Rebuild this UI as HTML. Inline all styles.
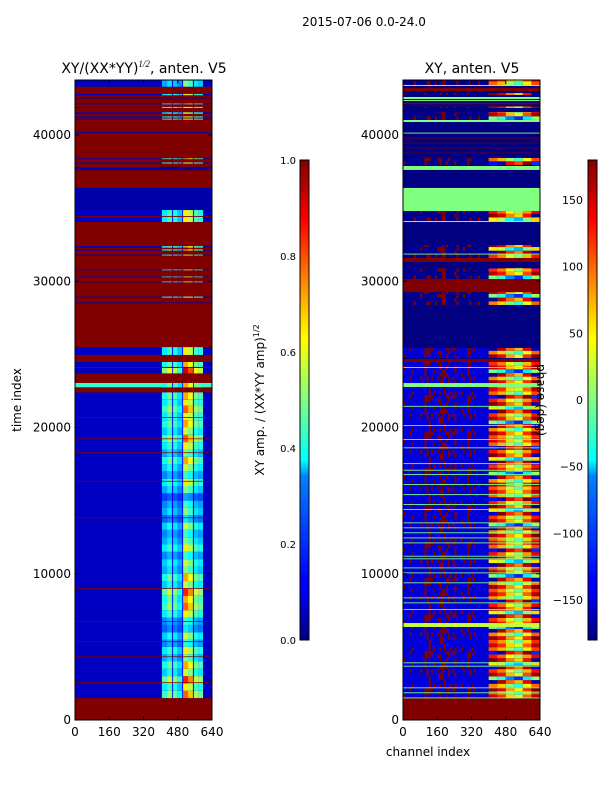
<!DOCTYPE html>
<html><head><meta charset="utf-8">
<style>
html,body{margin:0;padding:0;background:#fff;}
svg text{font-family:"DejaVu Sans","Liberation Sans",sans-serif;fill:#000;}
</style></head>
<body>
<svg id="fig" width="600" height="800" viewBox="0 0 600 800" xmlns="http://www.w3.org/2000/svg">
<defs>
<linearGradient id="jet" x1="0" y1="1" x2="0" y2="0">
<stop offset="0" stop-color="#000080"/><stop offset="0.11" stop-color="#0000ff"/>
<stop offset="0.125" stop-color="#0000ff"/><stop offset="0.34" stop-color="#0080ff"/><stop offset="0.375" stop-color="#00ffff"/>
<stop offset="0.5" stop-color="#80ff80"/><stop offset="0.625" stop-color="#ffff00"/><stop offset="0.66" stop-color="#ffe000"/>
<stop offset="0.875" stop-color="#ff0000"/><stop offset="1" stop-color="#800000"/>
</linearGradient>
<clipPath id="clipL"><rect x="75" y="80" width="137" height="640"/></clipPath>
<clipPath id="clipR"><rect x="403" y="80" width="137" height="640"/></clipPath>
</defs>
<text x="364" y="26" font-size="12" text-anchor="middle">2015-07-06 0.0-24.0</text>
<text x="144" y="73" font-size="14" text-anchor="middle">XY/(XX*YY)<tspan font-size="9" dy="-6" font-family="Liberation Serif,serif" font-style="italic">1/2</tspan><tspan dy="6">, anten. V5</tspan></text>
<text x="472" y="73" font-size="14" text-anchor="middle">XY, anten. V5</text>
<g id="heatL" clip-path="url(#clipL)"></g>
<g id="heatR" clip-path="url(#clipR)"></g>
<rect x="75" y="80" width="137" height="640" fill="none" stroke="#000" stroke-width="1"/>
<rect x="403" y="80" width="137" height="640" fill="none" stroke="#000" stroke-width="1"/>
<g id="axes"></g>
<text transform="translate(21,400) rotate(-90)" font-size="12" text-anchor="middle">time index</text>
<text x="428" y="756" font-size="12" text-anchor="middle">channel index</text>
<rect x="300" y="160" width="9" height="480" fill="url(#jet)" stroke="#000" stroke-width="1"/>
<rect x="588" y="160" width="9" height="480" fill="url(#jet)" stroke="#000" stroke-width="1"/>
<text transform="translate(264,400) rotate(-90)" font-size="12" text-anchor="middle">XY amp. / (XX*YY amp)<tspan font-size="8" dy="-5">1/2</tspan></text>
<text transform="translate(537,400) rotate(90)" font-size="12" text-anchor="middle">phase (deg)</text>
</svg>
<script>
// ---------- data ----------
const xTicks = [0,160,320,480,640];
const yTicks = [0,10000,20000,30000,40000];
const cbLeftTicks = [0.0,0.2,0.4,0.6,0.8,1.0];
const cbRightTicks = [-150,-100,-50,0,50,100,150];
// left panel bands: [t0(k), t1(k), type, intensity]
const leftBands = [
 [0,1.5,'R',0],[1.5,21.9,'H',0],[21.9,22.4,'H',0.9],[22.75,23.05,'C',0.9],[23.05,23.7,'R',0],
 [23.7,24.07,'H',1.2],[24.07,24.14,'R',0],[24.14,24.48,'H',0.9],[24.48,24.96,'R',0],[24.96,25.5,'H',0.8],
 [25.5,28.5,'R',0],[28.5,28.55,'B',0],[28.88,28.95,'H',0.8],[29.93,29.98,'H',0.8],[30.27,30.32,'H',0.8],[30.75,30.8,'H',0.8],
 [31.76,31.82,'H',0.8],[32.1,32.18,'H',0.9],[32.3,32.4,'H',0.9],
 [34.05,34.87,'H',0.8],[34.4,34.46,'R',0],[34.87,36.38,'B',0],[37.6,37.82,'B',0],
 [38.05,38.12,'H',0.8],[38.35,38.4,'H',0.9],[40.15,40.2,'B',0],
 [41.05,41.12,'H',0.8],[41.2,41.27,'H',0.8],[41.45,41.55,'H',0.7],[41.85,41.92,'H',0.8],[42.1,42.15,'H',0.9],
 [42.5,42.56,'B',0],[42.72,42.8,'H',0.8],[43.3,43.76,'H',0.6]
];
const leftRedLines = [2.53,4.3,5.33,6.7,8.96,13.8,16.3,18.25,19.2,20.65];
const hotBins = [[406,430],[430,453],[453,458],[458,480],[480,500],[500,505],[505,528],[528,551],[551,556],[556,578],[578,598]];
const hotProfile = [0.35,0.45,0.1,0.4,0.3,0.1,0.7,0.6,0.1,0.45,0.4];
// intensity of hot stripes for main block rows (each 0.5k, from 1.5k upward)
const hotIntensity = [1.0,0.8,1.1,0.7,0.9,0.6,0.8,0.5,0.7,0.4,0.5,0.8,1.0,0.9,1.1,0.7,0.9,0.6,0.7,0.5,
 0.8,0.6,0.5,0.7,0.4,0.6,0.5,0.3,0.6,0.8,0.5,0.7,0.9,0.6,0.8,1.0,0.7,0.9,0.8,1.0,0.8];
// right panel bands: [t0, t1, type]  N navy, R dark red, G green, M mixed, Y yellow-green
const rightBands = [
 [1.48,24.48,'M'],[24.48,24.68,'R'],[24.75,25.44,'M'],[28.38,29.26,'M'],[29.26,30.15,'R'],[30.15,30.91,'M'],
 [31.32,31.59,'R'],[31.59,32.48,'M'],[34.05,34.12,'G'],[34.12,34.8,'M'],[34.8,36.38,'G'],[37.61,37.88,'G'],
 [37.95,38.43,'M'],[38.75,38.79,'R'],[39.09,39.13,'R'],[39.43,39.47,'R'],[39.77,39.81,'R'],[40.1,40.16,'G'],
 [40.89,41.03,'G'],[41.03,41.57,'M'],[41.85,41.95,'M'],[42.1,42.2,'R'],[42.32,42.39,'G'],[42.46,42.6,'G'],
 [42.74,42.87,'M'],[43.01,43.21,'R'],[43.35,43.42,'G'],[43.42,43.76,'M'],[0,1.48,'R'],[6.36,6.63,'Y'],[22.77,23.04,'G']
];
const rightGreenLines = [1.48,1.83,2.17,3.65,3.88,7.52,7.98,8.32,9.35,10.03,10.37,10.99,11.17,12.08,12.42,12.77,13.11,13.45,
 14.36,14.7,15.38,16.07,16.75,17.05,17.5,18.58,19.15,20.1,21.42,24.07,31.83];
const speckleDensity = [0.1,0.05,0.1,0.3,0.2,0.1,0.1,0.1,0.15,0.1,0.5,0.6,0.6,0.3,0.15,0.1,0.2,0.5,0.5,0.5,
 0.3,0.2,0.15,0.25,0.5,0.3,0.1,0.3,0.2,0.1,0.4,0.5,0.3,0.2,0.1,0.1,0.1,0.1,0.1,0.1];
const rightProfile = [150,120,60,30,100,160];
const rowShift = [0,-40,20,-60,40,-150,10,-30,60,-100,30,-20,80,-50];

// ---------- scales ----------
function xL(c){return 75+c/640*137;}
function xR(c){return 403+c/640*137;}
function yT(t){return 720-t*14.625;}
function jet(v){v=Math.max(0,Math.min(1,v));
 const f=a=>Math.round(255*Math.max(0,Math.min(1,1.5-Math.abs(4*v-a))));
 return 'rgb('+f(3)+','+f(2)+','+f(1)+')';}
function phaseColor(p){while(p>180)p-=360;while(p<-180)p+=360;return jet((p+180)/360);}
const NS='http://www.w3.org/2000/svg';
function rect(g,x,y,w,h,fill,name){const r=document.createElementNS(NS,'rect');
 r.setAttribute('x',x.toFixed(2));r.setAttribute('y',y.toFixed(2));
 r.setAttribute('width',Math.max(w,0.5).toFixed(2));r.setAttribute('height',Math.max(h,0.6).toFixed(2));
 r.setAttribute('fill',fill);
 
 
 g.appendChild(r);return r;}

// ---------- left heatmap ----------
const gL=document.getElementById('heatL');
rect(gL,xL(0),yT(43.76),137,yT(0)-yT(43.76),jet(1),'heatmap-cell');
function hotRow(t0,t1,inten){
 hotBins.forEach((b,i)=>{rect(gL,xL(b[0]),yT(t1),xL(b[1])-xL(b[0]),yT(t0)-yT(t1),jet(0.08+inten*hotProfile[i]),'heatmap-cell');});
}
leftBands.forEach(b=>{
 const [t0,t1,ty,inten]=b;
 if(ty==='R'){rect(gL,xL(0),yT(t1),137,yT(t0)-yT(t1),jet(1),'heatmap-cell');return;}
 if(ty==='C'){rect(gL,xL(0),yT(t1),137,yT(t0)-yT(t1),jet(0.42),'heatmap-cell');hotRow(t0,t1,inten);return;}
 rect(gL,xL(0),yT(t1),137,yT(t0)-yT(t1),jet(ty==='B'?0.04:0.065),'heatmap-cell');
 if(ty==='H'){
  if(inten>0){hotRow(t0,t1,inten);}
  else{for(let k=0;k<hotIntensity.length;k++){const a=t0+k*0.5,z=Math.min(t1,a+0.5);if(a>=t1)break;hotRow(a,z,hotIntensity[k]);}}
 }
});
leftRedLines.forEach(t=>rect(gL,xL(0),yT(t+0.05),137,yT(t)-yT(t+0.05),jet(1),'heatmap-cell'));

// ---------- right heatmap ----------
const gR=document.getElementById('heatR');
rect(gR,xR(0),yT(43.76),137,yT(0)-yT(43.76),jet(0),'heatmap-cell');
rightBands.forEach((b,bi)=>{
 const [t0,t1,ty]=b;
 if(ty==='N'||ty==='R'||ty==='G'||ty==='Y'){
  const col={N:jet(0),R:jet(1),G:phaseColor(0),Y:phaseColor(25)}[ty];
  rect(gR,xR(0),yT(t1),137,yT(t0)-yT(t1),col,'heatmap-cell');return;}
 const step=0.25;let r=0;
 for(let a=t0;a<t1-1e-6;a+=step,r++){
  const z=Math.min(t1,a+step);const y=yT(z),h=yT(a)-yT(z);
  rect(gR,xR(0),y,xR(400)-xR(0),h,phaseColor(t0>25?-175:-148),'heatmap-cell');
  speckleDensity.forEach((d,i)=>{if(((i*i*7+r*r*3+i*r+bi*5)%10)/10<d)rect(gR,xR(i*10),y,xR(i*10+10)-xR(i*10),h,jet(1),'heatmap-cell');});
  const sh=rowShift[(r+bi)%rowShift.length];
  rightProfile.forEach((p,i)=>{rect(gR,xR(400+i*40),y,xR(440+i*40)-xR(400+i*40),h,phaseColor(p+sh),'heatmap-cell');});
 }
});
rightGreenLines.forEach(t=>rect(gR,xR(0),yT(t+0.06),137,yT(t)-yT(t+0.06),phaseColor(0),'heatmap-cell'));

// ---------- axes ----------
const ax=document.getElementById('axes');
function line(x1,y1,x2,y2,name){const l=document.createElementNS(NS,'line');
 l.setAttribute('x1',x1);l.setAttribute('y1',y1);l.setAttribute('x2',x2);l.setAttribute('y2',y2);
 l.setAttribute('stroke','#000');l.setAttribute('stroke-width','1');
 
 
 ax.appendChild(l);}
function text(x,y,s,anchor,size,name){const t=document.createElementNS(NS,'text');
 t.setAttribute('x',x);t.setAttribute('y',y);t.setAttribute('text-anchor',anchor);t.setAttribute('font-size',size);
 t.textContent=s;
 
 
 ax.appendChild(t);}
[xL,xR].forEach((sx,pi)=>{
 xTicks.forEach(c=>{line(sx(c),720,sx(c),716,'x-tick');line(sx(c),80,sx(c),84,'x-tick');text(sx(c),736,String(c),'middle',12,'x-tick-label');});
 const x0=pi?403:75,x1=pi?540:212;
 yTicks.forEach(v=>{const y=yT(v/1000);line(x0,y,x0+4,y,'y-tick');line(x1,y,x1-4,y,'y-tick');text(x0-4,y+4,String(v),'end',12,'y-tick-label');});
});
cbLeftTicks.forEach(v=>{const y=640-v*480;line(300,y,309,y,'colorbar-tick');text(296,y+4,v.toFixed(1),'end',10,'colorbar-tick-label');});
cbRightTicks.forEach(v=>{const y=640-(v+180)/360*480;line(588,y,597,y,'colorbar-tick');text(583,y+4,v<0?'\u2212'+(-v):String(v),'end',11,'colorbar-tick-label');});
</script>
</body></html>
